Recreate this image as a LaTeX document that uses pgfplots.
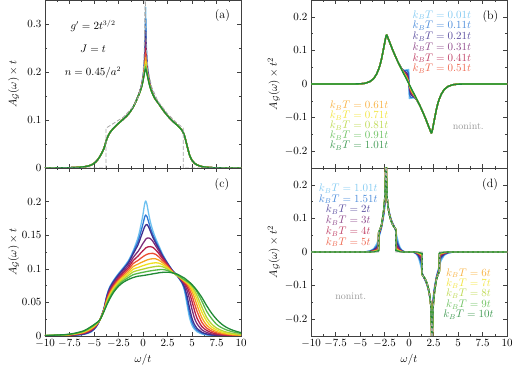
\documentclass[border=0pt]{standalone}
\usepackage{pgfplots}
\usepackage{pgfplotstable}
\pgfplotsset{compat=1.18}

\definecolor{k0}{HTML}{6EC1F0}
\definecolor{k1}{HTML}{2B78D4}
\definecolor{k2}{HTML}{3E2F8F}
\definecolor{k3}{HTML}{7C2B78}
\definecolor{k4}{HTML}{B5204C}
\definecolor{k5}{HTML}{EC4E32}
\definecolor{k6}{HTML}{F6A623}
\definecolor{k7}{HTML}{F0E020}
\definecolor{k8}{HTML}{B4D335}
\definecolor{k9}{HTML}{57B848}
\definecolor{k10}{HTML}{218A36}

% panel (a): k_B T = 0.01t ... 1.01t
\pgfplotstableread{
w a0 a1 a2 a3 a4 a5 a6 a7 a8 a9 a10
-10 0 0 0 0 0 0 0 0 0 0 0
-8 0.0004 0.0004 0.0004 0.0004 0.0004 0.0004 0.0004 0.0004 0.0004 0.0004 0.0004
-7 0.001 0.001 0.001 0.001 0.001 0.001 0.001 0.001 0.001 0.001 0.001
-6 0.0025 0.0025 0.0025 0.0025 0.0025 0.0025 0.0025 0.0025 0.0025 0.0025 0.0025
-5.3 0.006 0.006 0.006 0.006 0.006 0.006 0.006 0.006 0.006 0.006 0.006
-4.8 0.013 0.013 0.013 0.013 0.013 0.013 0.013 0.013 0.013 0.013 0.013
-4.4 0.024 0.024 0.024 0.024 0.024 0.024 0.024 0.024 0.024 0.024 0.024
-4.0 0.040 0.040 0.040 0.040 0.040 0.040 0.040 0.040 0.040 0.040 0.040
-3.7 0.060 0.060 0.060 0.060 0.060 0.060 0.060 0.060 0.060 0.060 0.060
-3.4 0.073 0.073 0.073 0.073 0.073 0.073 0.073 0.073 0.073 0.073 0.073
-3.0 0.083 0.083 0.083 0.083 0.083 0.083 0.083 0.083 0.083 0.083 0.083
-2.5 0.093 0.093 0.093 0.093 0.093 0.093 0.093 0.093 0.093 0.093 0.093
-2.0 0.102 0.102 0.102 0.102 0.102 0.102 0.102 0.102 0.102 0.102 0.102
-1.5 0.112 0.112 0.112 0.112 0.112 0.112 0.112 0.112 0.112 0.112 0.112
-1.0 0.127 0.127 0.127 0.127 0.127 0.127 0.127 0.127 0.127 0.127 0.127
-0.6 0.145 0.145 0.145 0.144 0.144 0.144 0.144 0.144 0.144 0.144 0.144
-0.3 0.161 0.161 0.160 0.160 0.160 0.160 0.159 0.159 0.159 0.159 0.159
-0.1 0.178 0.177 0.176 0.175 0.174 0.174 0.173 0.173 0.172 0.172 0.172
0.05 0.200 0.197 0.195 0.193 0.191 0.190 0.189 0.189 0.188 0.187 0.187
0.15 0.228 0.222 0.216 0.212 0.208 0.206 0.204 0.202 0.200 0.199 0.198
0.22 0.270 0.257 0.244 0.234 0.227 0.221 0.216 0.212 0.209 0.207 0.204
0.27 0.335 0.310 0.285 0.265 0.250 0.240 0.230 0.222 0.216 0.211 0.206
0.32 0.270 0.257 0.244 0.234 0.227 0.221 0.216 0.212 0.209 0.207 0.204
0.4 0.230 0.224 0.217 0.212 0.208 0.206 0.204 0.201 0.200 0.198 0.197
0.5 0.205 0.201 0.198 0.195 0.193 0.192 0.190 0.189 0.188 0.188 0.187
0.7 0.178 0.176 0.175 0.174 0.173 0.172 0.171 0.171 0.171 0.170 0.170
0.9 0.162 0.161 0.160 0.160 0.159 0.159 0.159 0.158 0.158 0.158 0.158
1.2 0.146 0.146 0.146 0.145 0.145 0.145 0.145 0.145 0.145 0.145 0.145
1.6 0.134 0.134 0.134 0.134 0.134 0.134 0.134 0.134 0.134 0.134 0.134
2.0 0.122 0.122 0.122 0.122 0.122 0.122 0.122 0.122 0.122 0.122 0.122
2.5 0.109 0.109 0.109 0.109 0.109 0.109 0.109 0.109 0.109 0.109 0.109
3.0 0.098 0.098 0.098 0.098 0.098 0.098 0.098 0.098 0.098 0.098 0.098
3.5 0.089 0.089 0.089 0.089 0.089 0.089 0.089 0.089 0.089 0.089 0.089
4.0 0.078 0.078 0.078 0.078 0.078 0.078 0.078 0.078 0.078 0.078 0.078
4.25 0.066 0.066 0.066 0.066 0.066 0.066 0.066 0.066 0.066 0.066 0.066
4.5 0.046 0.046 0.046 0.046 0.046 0.046 0.046 0.046 0.046 0.046 0.046
4.75 0.027 0.027 0.027 0.027 0.027 0.027 0.027 0.027 0.027 0.027 0.027
5.0 0.016 0.016 0.016 0.016 0.016 0.016 0.016 0.016 0.016 0.016 0.016
5.25 0.010 0.010 0.010 0.010 0.010 0.010 0.010 0.010 0.010 0.010 0.010
5.5 0.0065 0.0065 0.0065 0.0065 0.0065 0.0065 0.0065 0.0065 0.0065 0.0065 0.0065
6.0 0.003 0.003 0.003 0.003 0.003 0.003 0.003 0.003 0.003 0.003 0.003
6.5 0.0015 0.0015 0.0015 0.0015 0.0015 0.0015 0.0015 0.0015 0.0015 0.0015 0.0015
7.0 0.0008 0.0008 0.0008 0.0008 0.0008 0.0008 0.0008 0.0008 0.0008 0.0008 0.0008
7.5 0.0004 0.0004 0.0004 0.0004 0.0004 0.0004 0.0004 0.0004 0.0004 0.0004 0.0004
8.5 0.0001 0.0001 0.0001 0.0001 0.0001 0.0001 0.0001 0.0001 0.0001 0.0001 0.0001
10 0 0 0 0 0 0 0 0 0 0 0
}\tabA

% panel (c): k_B T = 1.01t, 1.51t, 2t, ..., 10t
\pgfplotstableread{
w c0 c1 c2 c3 c4 c5 c6 c7 c8 c9 c10
-10 0 0.0001 0.0001 0.0002 0.0003 0.0004 0.0005 0.0006 0.0006 0.0007 0.0008
-8 0.0004 0.0005 0.0006 0.0008 0.0010 0.0012 0.0013 0.0015 0.0017 0.0018 0.0020
-7 0.0010 0.0012 0.0014 0.0018 0.0021 0.0024 0.0028 0.0031 0.0034 0.0037 0.0040
-6 0.0025 0.0028 0.0032 0.0039 0.0045 0.0051 0.0057 0.0063 0.0068 0.0074 0.0080
-5.3 0.0060 0.0065 0.0070 0.0080 0.0090 0.0098 0.0107 0.0115 0.0123 0.0132 0.0140
-4.8 0.0130 0.0134 0.0137 0.0145 0.0152 0.0159 0.0165 0.0171 0.0177 0.0184 0.0190
-4.4 0.024 0.024 0.024 0.024 0.024 0.024 0.024 0.024 0.024 0.024 0.024
-4.0 0.0400 0.0398 0.0395 0.0390 0.0385 0.0381 0.0376 0.0372 0.0368 0.0364 0.0360
-3.7 0.0600 0.0592 0.0583 0.0565 0.0548 0.0533 0.0517 0.0503 0.0489 0.0475 0.0460
-3.4 0.0730 0.0719 0.0708 0.0685 0.0663 0.0644 0.0624 0.0606 0.0588 0.0569 0.0550
-3.0 0.0830 0.0819 0.0808 0.0785 0.0763 0.0744 0.0724 0.0706 0.0688 0.0669 0.0650
-2.5 0.0930 0.0919 0.0907 0.0883 0.0860 0.0839 0.0818 0.0799 0.0780 0.0760 0.0740
-2.0 0.1020 0.1007 0.0994 0.0965 0.0939 0.0914 0.0890 0.0868 0.0846 0.0823 0.0800
-1.5 0.1120 0.1103 0.1086 0.1050 0.1016 0.0986 0.0955 0.0927 0.0899 0.0869 0.0840
-1.0 0.1270 0.1246 0.1222 0.1170 0.1122 0.1078 0.1034 0.0994 0.0954 0.0912 0.0870
-0.5 0.147 0.141 0.136 0.126 0.119 0.1125 0.1070 0.1020 0.0976 0.0932 0.0890
-0.2 0.166 0.156 0.148 0.133 0.124 0.1160 0.1093 0.1037 0.0988 0.0942 0.0895
0.0 0.181 0.167 0.156 0.138 0.127 0.1180 0.1105 0.1047 0.0995 0.0948 0.0900
0.15 0.195 0.176 0.162 0.141 0.129 0.1195 0.1115 0.1054 0.1000 0.0952 0.0903
0.27 0.201 0.180 0.165 0.144 0.131 0.1205 0.1123 0.1060 0.1005 0.0956 0.0906
0.4 0.196 0.178 0.166 0.1455 0.132 0.1215 0.1131 0.1066 0.1010 0.0960 0.0909
0.55 0.184 0.171 0.163 0.146 0.1328 0.1222 0.1138 0.1072 0.1015 0.0964 0.0913
0.75 0.170 0.161 0.156 0.145 0.133 0.1228 0.1145 0.1079 0.1021 0.0969 0.0918
1.0 0.157 0.151 0.147 0.141 0.132 0.1230 0.1150 0.1085 0.1028 0.0975 0.0925
1.3 0.145 0.141 0.138 0.134 0.128 0.1215 0.1148 0.1090 0.1035 0.0981 0.0932
1.6 0.135 0.132 0.130 0.127 0.123 0.1180 0.1130 0.1085 0.1040 0.0986 0.0940
2.0 0.122 0.120 0.119 0.117 0.115 0.1120 0.1090 0.1060 0.1030 0.0990 0.0947
2.5 0.109 0.108 0.108 0.107 0.106 0.1045 0.1025 0.1010 0.0995 0.0975 0.0950
3.0 0.098 0.0976 0.0973 0.0968 0.0963 0.0958 0.0953 0.0949 0.0945 0.0942 0.0940
3.5 0.089 0.0896 0.0897 0.0899 0.0900 0.0900 0.0900 0.0902 0.0902 0.0910 0.0920
4.0 0.078 0.0787 0.0797 0.0813 0.0825 0.0834 0.0841 0.0847 0.0852 0.0858 0.0880
4.25 0.066 0.0690 0.0723 0.0764 0.0787 0.0800 0.0811 0.0820 0.0827 0.0836 0.0860
4.5 0.046 0.0526 0.0592 0.0677 0.0730 0.0759 0.0782 0.0792 0.0802 0.0812 0.0830
4.75 0.027 0.0340 0.0418 0.0549 0.0637 0.0693 0.0732 0.0756 0.0775 0.0790 0.0800
5.0 0.016 0.0208 0.0264 0.0398 0.0514 0.0602 0.0663 0.0702 0.0734 0.0755 0.0765
5.25 0.010 0.0130 0.0172 0.0267 0.0384 0.0486 0.0574 0.0633 0.0677 0.0713 0.0725
5.5 0.0065 0.0088 0.0115 0.0186 0.0269 0.0373 0.0465 0.0547 0.0607 0.0661 0.0680
6.0 0.0030 0.0043 0.0057 0.0094 0.0142 0.0205 0.0274 0.0357 0.0434 0.0519 0.0575
6.5 0.0015 0.0023 0.0030 0.0053 0.0083 0.0118 0.0162 0.0220 0.0276 0.0366 0.0450
7.0 0.0008 0.0012 0.0017 0.0030 0.0050 0.0073 0.0101 0.0136 0.0180 0.0260 0.0340
7.5 0.0004 0.0007 0.0010 0.0019 0.0030 0.0047 0.0066 0.0091 0.0119 0.0175 0.0250
8.0 0.0002 0.0004 0.0006 0.0012 0.0020 0.0030 0.0045 0.0062 0.0084 0.0125 0.0180
8.5 0.0001 0.0002 0.0003 0.0007 0.0013 0.0022 0.0030 0.0044 0.0059 0.0092 0.0130
9.0 0 0.0001 0.0002 0.0005 0.0009 0.0014 0.0023 0.0030 0.0043 0.0068 0.0095
9.5 0 0.0001 0.0001 0.0003 0.0006 0.0010 0.0015 0.0024 0.0030 0.0051 0.0070
10 0 0 0.0001 0.0002 0.0004 0.0007 0.0012 0.0017 0.0024 0.0038 0.0050
}\tabC

% panel (b): k_B T = 0.01t ... 1.01t
\pgfplotstableread{
w b0 b1 b2 b3 b4 b5 b6 b7 b8 b9 b10
-10 0 0 0 0 0 0 0 0 0 0 0
-6 0 0 0 0 0 0 0 0 0 0 0
-5 0.0005 0.0005 0.0005 0.0005 0.0005 0.0005 0.0005 0.0005 0.0005 0.0005 0.0005
-4.5 0.002 0.002 0.002 0.002 0.002 0.002 0.002 0.002 0.002 0.002 0.002
-4.0 0.007 0.007 0.007 0.007 0.007 0.007 0.007 0.007 0.007 0.007 0.007
-3.6 0.016 0.016 0.016 0.016 0.016 0.016 0.016 0.016 0.016 0.016 0.016
-3.3 0.030 0.030 0.030 0.030 0.030 0.030 0.030 0.030 0.030 0.030 0.030
-3.1 0.044 0.044 0.044 0.044 0.044 0.044 0.044 0.044 0.044 0.044 0.044
-2.95 0.057 0.057 0.057 0.057 0.057 0.057 0.057 0.057 0.057 0.057 0.057
-2.8 0.075 0.075 0.075 0.075 0.075 0.075 0.075 0.075 0.075 0.075 0.075
-2.65 0.097 0.097 0.097 0.097 0.097 0.097 0.097 0.097 0.097 0.097 0.097
-2.55 0.112 0.112 0.112 0.112 0.112 0.112 0.112 0.112 0.112 0.112 0.112
-2.48 0.123 0.123 0.123 0.123 0.123 0.123 0.123 0.123 0.123 0.123 0.123
-2.42 0.132 0.132 0.132 0.132 0.132 0.132 0.132 0.132 0.132 0.132 0.132
-2.37 0.139 0.139 0.139 0.139 0.139 0.139 0.139 0.139 0.139 0.139 0.139
-2.33 0.144 0.144 0.144 0.144 0.144 0.144 0.144 0.144 0.144 0.144 0.144
-2.28 0.146 0.146 0.146 0.146 0.146 0.146 0.146 0.146 0.146 0.146 0.146
-2.2 0.141 0.141 0.141 0.141 0.141 0.141 0.141 0.141 0.141 0.141 0.141
-2.05 0.130 0.130 0.130 0.130 0.130 0.130 0.130 0.130 0.130 0.130 0.130
-1.85 0.115 0.115 0.115 0.115 0.115 0.115 0.115 0.115 0.115 0.115 0.115
-1.65 0.100 0.100 0.100 0.100 0.100 0.100 0.100 0.100 0.100 0.100 0.100
-1.5 0.090 0.090 0.090 0.090 0.090 0.090 0.090 0.090 0.090 0.090 0.090
-1.35 0.080 0.080 0.080 0.080 0.080 0.080 0.080 0.080 0.080 0.080 0.080
-1.2 0.070 0.070 0.070 0.070 0.070 0.070 0.070 0.070 0.070 0.070 0.070
-1.05 0.061 0.061 0.061 0.061 0.061 0.061 0.061 0.061 0.061 0.061 0.061
-0.9 0.053 0.053 0.053 0.053 0.053 0.052 0.052 0.052 0.052 0.052 0.052
-0.7 0.044 0.044 0.043 0.043 0.042 0.042 0.041 0.041 0.041 0.040 0.040
-0.5 0.040 0.040 0.038 0.036 0.034 0.033 0.032 0.031 0.030 0.029 0.028
-0.35 0.041 0.040 0.036 0.032 0.029 0.027 0.025 0.024 0.023 0.021 0.020
-0.25 0.042 0.040 0.034 0.029 0.025 0.022 0.020 0.018 0.017 0.0155 0.014
-0.15 0.042 0.039 0.029 0.022 0.018 0.015 0.013 0.012 0.011 0.0095 0.008
-0.07 0.043 0.033 0.018 0.012 0.009 0.008 0.007 0.006 0.0055 0.0048 0.004
-0.02 0.043 0.013 0.006 0.004 0.003 0.0025 0.002 0.0018 0.0016 0.0013 0.001
0 0 0 0 0 0 0 0 0 0 0 0
0.02 -0.043 -0.013 -0.006 -0.004 -0.003 -0.0025 -0.002 -0.0018 -0.0016 -0.0013 -0.001
0.07 -0.043 -0.033 -0.018 -0.012 -0.009 -0.008 -0.007 -0.006 -0.0055 -0.0048 -0.004
0.15 -0.042 -0.039 -0.029 -0.022 -0.018 -0.015 -0.013 -0.012 -0.011 -0.0095 -0.008
0.25 -0.042 -0.040 -0.034 -0.029 -0.025 -0.022 -0.020 -0.018 -0.017 -0.0155 -0.014
0.35 -0.041 -0.040 -0.036 -0.032 -0.029 -0.027 -0.025 -0.024 -0.023 -0.021 -0.020
0.5 -0.040 -0.040 -0.038 -0.036 -0.034 -0.033 -0.032 -0.031 -0.030 -0.029 -0.028
0.7 -0.044 -0.044 -0.043 -0.043 -0.042 -0.042 -0.041 -0.041 -0.041 -0.040 -0.040
0.9 -0.053 -0.053 -0.053 -0.053 -0.053 -0.052 -0.052 -0.052 -0.052 -0.052 -0.052
1.05 -0.061 -0.061 -0.061 -0.061 -0.061 -0.061 -0.061 -0.061 -0.061 -0.061 -0.061
1.2 -0.070 -0.070 -0.070 -0.070 -0.070 -0.070 -0.070 -0.070 -0.070 -0.070 -0.070
1.35 -0.080 -0.080 -0.080 -0.080 -0.080 -0.080 -0.080 -0.080 -0.080 -0.080 -0.080
1.5 -0.090 -0.090 -0.090 -0.090 -0.090 -0.090 -0.090 -0.090 -0.090 -0.090 -0.090
1.65 -0.100 -0.100 -0.100 -0.100 -0.100 -0.100 -0.100 -0.100 -0.100 -0.100 -0.100
1.85 -0.115 -0.115 -0.115 -0.115 -0.115 -0.115 -0.115 -0.115 -0.115 -0.115 -0.115
2.05 -0.130 -0.130 -0.130 -0.130 -0.130 -0.130 -0.130 -0.130 -0.130 -0.130 -0.130
2.2 -0.141 -0.141 -0.141 -0.141 -0.141 -0.141 -0.141 -0.141 -0.141 -0.141 -0.141
2.28 -0.146 -0.146 -0.146 -0.146 -0.146 -0.146 -0.146 -0.146 -0.146 -0.146 -0.146
2.33 -0.144 -0.144 -0.144 -0.144 -0.144 -0.144 -0.144 -0.144 -0.144 -0.144 -0.144
2.37 -0.139 -0.139 -0.139 -0.139 -0.139 -0.139 -0.139 -0.139 -0.139 -0.139 -0.139
2.42 -0.132 -0.132 -0.132 -0.132 -0.132 -0.132 -0.132 -0.132 -0.132 -0.132 -0.132
2.48 -0.123 -0.123 -0.123 -0.123 -0.123 -0.123 -0.123 -0.123 -0.123 -0.123 -0.123
2.55 -0.112 -0.112 -0.112 -0.112 -0.112 -0.112 -0.112 -0.112 -0.112 -0.112 -0.112
2.65 -0.097 -0.097 -0.097 -0.097 -0.097 -0.097 -0.097 -0.097 -0.097 -0.097 -0.097
2.8 -0.075 -0.075 -0.075 -0.075 -0.075 -0.075 -0.075 -0.075 -0.075 -0.075 -0.075
2.95 -0.057 -0.057 -0.057 -0.057 -0.057 -0.057 -0.057 -0.057 -0.057 -0.057 -0.057
3.1 -0.044 -0.044 -0.044 -0.044 -0.044 -0.044 -0.044 -0.044 -0.044 -0.044 -0.044
3.3 -0.030 -0.030 -0.030 -0.030 -0.030 -0.030 -0.030 -0.030 -0.030 -0.030 -0.030
3.6 -0.016 -0.016 -0.016 -0.016 -0.016 -0.016 -0.016 -0.016 -0.016 -0.016 -0.016
4.0 -0.007 -0.007 -0.007 -0.007 -0.007 -0.007 -0.007 -0.007 -0.007 -0.007 -0.007
4.5 -0.002 -0.002 -0.002 -0.002 -0.002 -0.002 -0.002 -0.002 -0.002 -0.002 -0.002
5 -0.0005 -0.0005 -0.0005 -0.0005 -0.0005 -0.0005 -0.0005 -0.0005 -0.0005 -0.0005 -0.0005
6 0 0 0 0 0 0 0 0 0 0 0
10 0 0 0 0 0 0 0 0 0 0 0
}\tabB

% panel (d): k_B T = 1.01t ... 10t, nn = noninteracting
\pgfplotstableread{
w d0 d1 d2 d3 d4 d5 d6 d7 d8 d9 d10 nn
-10 0 0 0 0 0 0 0 0 0 0 0 0
-6 0 0 0 0 0 0 0 0 0 0 0 0
-5 0 0 0 0 0 0 0 0 0 0 0 0
-4.5 0.0005 0.0004 0.0003 0.0002 0.0002 0.0001 0.0001 0.0001 0.0001 0 0 0
-4.0 0.003 0.0023 0.0017 0.0012 0.0009 0.0007 0.0005 0.0004 0.0003 0.0003 0.0002 0
-3.6 0.010 0.0075 0.0058 0.0040 0.0030 0.0023 0.0018 0.0014 0.0011 0.0009 0.0007 0
-3.3 0.024 0.018 0.0139 0.0096 0.0072 0.0055 0.0043 0.0034 0.0026 0.0020 0.0016 0
-3.1 0.040 0.030 0.0232 0.016 0.012 0.0092 0.0072 0.0056 0.0044 0.0034 0.0026 0
-3.1 0.040 0.045 0.0484 0.052 0.054 0.0554 0.0564 0.0572 0.0578 0.0583 0.0587 0.060
-2.95 0.055 0.0588 0.0613 0.064 0.0655 0.0666 0.0673 0.0679 0.0684 0.0687 0.069 0.070
-2.8 0.072 0.0748 0.0766 0.0786 0.0797 0.0805 0.081 0.0815 0.0818 0.0821 0.0823 0.083
-2.65 0.095 0.0993 0.1021 0.1052 0.1069 0.1081 0.1089 0.1096 0.1101 0.1106 0.1109 0.112
-2.55 0.113 0.1185 0.1222 0.1262 0.1284 0.1299 0.131 0.1319 0.1326 0.1331 0.1336 0.135
-2.48 0.130 0.1383 0.1439 0.1498 0.1531 0.1554 0.1571 0.1584 0.1594 0.1602 0.1609 0.163
-2.42 0.150 0.1625 0.171 0.18 0.185 0.1885 0.191 0.193 0.1945 0.1958 0.1968 0.200
-2.37 0.168 0.206 0.2318 0.2592 0.2744 0.285 0.2926 0.2987 0.3033 0.3071 0.3101 0.320
-2.33 0.176 0.212 0.2365 0.2624 0.2768 0.2869 0.2941 0.2998 0.3042 0.3078 0.3106 0.320
-2.28 0.170 0.180 0.1868 0.194 0.198 0.2008 0.2028 0.2044 0.2056 0.2066 0.2074 0.210
-2.2 0.150 0.150 0.150 0.150 0.150 0.150 0.150 0.150 0.150 0.150 0.150 0.150
-2.05 0.123 0.121 0.1196 0.1182 0.1174 0.1168 0.1164 0.1161 0.1159 0.1157 0.1155 0.115
-1.85 0.100 0.0983 0.0971 0.0958 0.0951 0.0946 0.0943 0.094 0.0938 0.0936 0.0935 0.093
-1.65 0.085 0.0835 0.0825 0.0814 0.0808 0.0804 0.0801 0.0798 0.0797 0.0795 0.0794 0.079
-1.5 0.076 0.0753 0.0747 0.0742 0.0739 0.0737 0.0735 0.0734 0.0733 0.0733 0.0732 0.073
-1.35 0.062 0.0638 0.0649 0.0662 0.0669 0.0674 0.0677 0.068 0.0682 0.0684 0.0685 0.069
-1.35 0.062 0.0465 0.036 0.0248 0.0186 0.0143 0.0112 0.0087 0.0068 0.0053 0.004 0
-1.2 0.042 0.0315 0.0244 0.0168 0.0126 0.0097 0.0076 0.0059 0.0046 0.0036 0.0027 0
-1.05 0.025 0.0188 0.0145 0.010 0.0075 0.0058 0.0045 0.0035 0.0028 0.0021 0.0016 0
-0.9 0.013 0.0098 0.0075 0.0052 0.0039 0.003 0.0023 0.0018 0.0014 0.0011 0.0008 0
-0.7 0.005 0.0038 0.0029 0.002 0.0015 0.0012 0.0009 0.0007 0.0006 0.0004 0.0003 0
-0.5 0.0015 0.0011 0.0009 0.0006 0.0005 0.0003 0.0003 0.0002 0.0002 0.0001 0.0001 0
-0.3 0.0004 0.0003 0.0002 0.0002 0.0001 0.0001 0.0001 0.0001 0 0 0 0
-0.15 0.0001 0.0001 0.0001 0 0 0 0 0 0 0 0 0
0 0 0 0 0 0 0 0 0 0 0 0 0
0.15 -0.0001 -0.0001 -0.0001 0 0 0 0 0 0 0 0 0
0.3 -0.0004 -0.0003 -0.0002 -0.0002 -0.0001 -0.0001 -0.0001 -0.0001 0 0 0 0
0.5 -0.0015 -0.0011 -0.0009 -0.0006 -0.0005 -0.0003 -0.0003 -0.0002 -0.0002 -0.0001 -0.0001 0
0.7 -0.005 -0.0038 -0.0029 -0.002 -0.0015 -0.0012 -0.0009 -0.0007 -0.0006 -0.0004 -0.0003 0
0.9 -0.013 -0.0098 -0.0075 -0.0052 -0.0039 -0.003 -0.0023 -0.0018 -0.0014 -0.0011 -0.0008 0
1.05 -0.025 -0.0188 -0.0145 -0.010 -0.0075 -0.0058 -0.0045 -0.0035 -0.0028 -0.0021 -0.0016 0
1.2 -0.042 -0.0315 -0.0244 -0.0168 -0.0126 -0.0097 -0.0076 -0.0059 -0.0046 -0.0036 -0.0027 0
1.35 -0.062 -0.0465 -0.036 -0.0248 -0.0186 -0.0143 -0.0112 -0.0087 -0.0068 -0.0053 -0.004 0
1.35 -0.062 -0.0638 -0.0649 -0.0662 -0.0669 -0.0674 -0.0677 -0.068 -0.0682 -0.0684 -0.0685 -0.069
1.5 -0.076 -0.0753 -0.0747 -0.0742 -0.0739 -0.0737 -0.0735 -0.0734 -0.0733 -0.0733 -0.0732 -0.073
1.65 -0.085 -0.0835 -0.0825 -0.0814 -0.0808 -0.0804 -0.0801 -0.0798 -0.0797 -0.0795 -0.0794 -0.079
1.85 -0.100 -0.0983 -0.0971 -0.0958 -0.0951 -0.0946 -0.0943 -0.094 -0.0938 -0.0936 -0.0935 -0.093
2.05 -0.123 -0.121 -0.1196 -0.1182 -0.1174 -0.1168 -0.1164 -0.1161 -0.1159 -0.1157 -0.1155 -0.115
2.2 -0.150 -0.150 -0.150 -0.150 -0.150 -0.150 -0.150 -0.150 -0.150 -0.150 -0.150 -0.150
2.28 -0.170 -0.180 -0.1868 -0.194 -0.198 -0.2008 -0.2028 -0.2044 -0.2056 -0.2066 -0.2074 -0.210
2.33 -0.176 -0.212 -0.2365 -0.2624 -0.2768 -0.2869 -0.2941 -0.2998 -0.3042 -0.3078 -0.3106 -0.320
2.37 -0.168 -0.206 -0.2318 -0.2592 -0.2744 -0.285 -0.2926 -0.2987 -0.3033 -0.3071 -0.3101 -0.320
2.42 -0.150 -0.1625 -0.171 -0.18 -0.185 -0.1885 -0.191 -0.193 -0.1945 -0.1958 -0.1968 -0.200
2.48 -0.130 -0.1383 -0.1439 -0.1498 -0.1531 -0.1554 -0.1571 -0.1584 -0.1594 -0.1602 -0.1609 -0.163
2.55 -0.113 -0.1185 -0.1222 -0.1262 -0.1284 -0.1299 -0.131 -0.1319 -0.1326 -0.1331 -0.1336 -0.135
2.65 -0.095 -0.0993 -0.1021 -0.1052 -0.1069 -0.1081 -0.1089 -0.1096 -0.1101 -0.1106 -0.1109 -0.112
2.8 -0.072 -0.0748 -0.0766 -0.0786 -0.0797 -0.0805 -0.081 -0.0815 -0.0818 -0.0821 -0.0823 -0.083
2.95 -0.055 -0.0588 -0.0613 -0.064 -0.0655 -0.0666 -0.0673 -0.0679 -0.0684 -0.0687 -0.069 -0.070
3.1 -0.040 -0.045 -0.0484 -0.052 -0.054 -0.0554 -0.0564 -0.0572 -0.0578 -0.0583 -0.0587 -0.060
3.1 -0.040 -0.030 -0.0232 -0.016 -0.012 -0.0092 -0.0072 -0.0056 -0.0044 -0.0034 -0.0026 0
3.3 -0.024 -0.018 -0.0139 -0.0096 -0.0072 -0.0055 -0.0043 -0.0034 -0.0026 -0.0020 -0.0016 0
3.6 -0.010 -0.0075 -0.0058 -0.0040 -0.0030 -0.0023 -0.0018 -0.0014 -0.0011 -0.0009 -0.0007 0
4.0 -0.003 -0.0023 -0.0017 -0.0012 -0.0009 -0.0007 -0.0005 -0.0004 -0.0003 -0.0003 -0.0002 0
4.5 -0.0005 -0.0004 -0.0003 -0.0002 -0.0002 -0.0001 -0.0001 -0.0001 -0.0001 0 0 0
5 0 0 0 0 0 0 0 0 0 0 0 0
6 0 0 0 0 0 0 0 0 0 0 0 0
10 0 0 0 0 0 0 0 0 0 0 0 0
}\tabD

\pgfplotsset{
  panel/.style={
    scale only axis, width=196pt, height=168pt,
    xmin=-10, xmax=10,
    xtick={-10,-7.5,...,10},
    minor x tick num=1, minor y tick num=1,
    tick align=inside,
    major tick length=4pt, minor tick length=2pt,
    axis line style={black!75, line width=0.6pt},
    every tick/.style={black!75, line width=0.5pt},
    scaled ticks=false,
    yticklabel style={/pgf/number format/fixed, /pgf/number format/precision=2},
    xticklabel style={/pgf/number format/fixed, /pgf/number format/precision=1},
    tick label style={font=\fontsize{11}{13}\selectfont},
    label style={font=\fontsize{11}{13}\selectfont},
  },
}
\tikzset{
  curve/.style={line width=1.3pt, line join=round},
  legtxt/.style={font=\fontsize{10.5}{12}\selectfont, text opacity=0.85},
}

\begin{document}
\begin{tikzpicture}
\useasboundingbox (0,0) rectangle (516pt,369pt);

% (a)
\begin{axis}[panel, at={(45pt,201pt)}, anchor=south west,
    ymin=0, ymax=0.35, ytick={0,0.1,0.2,0.3}, xticklabel=\empty,
    ylabel={$A_{\mathcal{G}}(\omega)\times t$},
    ylabel style={at={(axis description cs:-0.16,0.5)}, anchor=center}]
  \pgfplotsinvokeforeach{0,...,10}{
    \addplot[k#1, curve, smooth] table[x=w, y=a#1] {\tabA};
  }
  \addplot[gray!70, line width=0.8pt, dash pattern=on 4pt off 2pt] coordinates {
    (-10,0) (-3.78,0) (-3.78,0.083) (-2.0,0.106) (-1.0,0.128) (-0.5,0.147)
    (-0.2,0.170) (0.0,0.195) (0.12,0.24) (0.19,0.31) (0.22,0.45) (0.26,0.31)
    (0.34,0.25) (0.5,0.205) (0.9,0.168) (1.5,0.140) (2.5,0.113) (3.5,0.093)
    (4.1,0.083) (4.1,0) (10,0)};
  \node[font=\fontsize{12}{14}\selectfont] at (axis cs:8.1,0.317) {(a)};
  \node[font=\fontsize{10.5}{12}\selectfont] at (axis cs:-5.1,0.296) {$g'=2t^{3/2}$};
  \node[font=\fontsize{10.5}{12}\selectfont] at (axis cs:-5.1,0.249) {$J=t$};
  \node[font=\fontsize{10.5}{12}\selectfont] at (axis cs:-5.1,0.199) {$n=0.45/a^2$};
\end{axis}

% (c)
\begin{axis}[panel, at={(45pt,33pt)}, anchor=south west,
    ymin=0, ymax=0.25, ytick={0,0.05,0.1,0.15,0.2},
    xlabel={$\omega/t$},
    xlabel style={at={(axis description cs:0.5,-0.14)}, anchor=center},
    ylabel={$A_{\mathcal{G}}(\omega)\times t$},
    ylabel style={at={(axis description cs:-0.16,0.5)}, anchor=center}]
  \pgfplotsinvokeforeach{0,...,10}{
    \addplot[k#1, curve, smooth] table[x=w, y=c#1] {\tabC};
  }
  \node[font=\fontsize{12}{14}\selectfont] at (axis cs:8.05,0.225) {(c)};
\end{axis}

% (b)
\begin{axis}[panel, at={(311pt,201pt)}, anchor=south west,
    ymin=-0.25, ymax=0.25, ytick={-0.2,-0.1,0,0.1,0.2}, xticklabel=\empty,
    ylabel={$A_{\mathcal{G}}(\omega)\times t^2$},
    ylabel style={at={(axis description cs:-0.19,0.5)}, anchor=center}]
  \pgfplotsinvokeforeach{0,...,10}{
    \addplot[k#1, curve] table[x=w, y=b#1] {\tabB};
  }
  \node[font=\fontsize{12}{14}\selectfont] at (axis cs:8.3,0.202) {(b)};
  \node[legtxt, text=k0] at (axis cs:3.35,0.205) {$k_BT=0.01t$};
  \node[legtxt, text=k1] at (axis cs:3.35,0.173) {$k_BT=0.11t$};
  \node[legtxt, text=k2] at (axis cs:3.35,0.141) {$k_BT=0.21t$};
  \node[legtxt, text=k3] at (axis cs:3.35,0.109) {$k_BT=0.31t$};
  \node[legtxt, text=k4] at (axis cs:3.35,0.077) {$k_BT=0.41t$};
  \node[legtxt, text=k5] at (axis cs:3.35,0.045) {$k_BT=0.51t$};
  \node[legtxt, text=k6] at (axis cs:-5.1,-0.064) {$k_BT=0.61t$};
  \node[legtxt, text=k7] at (axis cs:-5.1,-0.094) {$k_BT=0.71t$};
  \node[legtxt, text=k8] at (axis cs:-5.1,-0.124) {$k_BT=0.81t$};
  \node[legtxt, text=k9] at (axis cs:-5.1,-0.154) {$k_BT=0.91t$};
  \node[legtxt, text=k10] at (axis cs:-5.1,-0.184) {$k_BT=1.01t$};
  \node[font=\fontsize{10}{12}\selectfont, text=gray!80] at (axis cs:6.05,-0.127) {nonint.};
\end{axis}

% (d)
\begin{axis}[panel, at={(311pt,33pt)}, anchor=south west,
    ymin=-0.25, ymax=0.25, ytick={-0.2,-0.1,0,0.1,0.2},
    xlabel={$\omega/t$},
    xlabel style={at={(axis description cs:0.5,-0.14)}, anchor=center},
    ylabel={$A_{\mathcal{G}}(\omega)\times t^2$},
    ylabel style={at={(axis description cs:-0.19,0.5)}, anchor=center}]
  \pgfplotsinvokeforeach{0,...,10}{
    \addplot[k#1, curve] table[x=w, y=d#1] {\tabD};
  }
  \addplot[gray!70, line width=0.8pt, dash pattern=on 3pt off 2pt] table[x=w, y=nn] {\tabD};
  \node[font=\fontsize{12}{14}\selectfont] at (axis cs:8.27,0.202) {(d)};
  \node[legtxt, text=k0] at (axis cs:-6.2,0.189) {$k_BT=1.01t$};
  \node[legtxt, text=k1] at (axis cs:-6.2,0.157) {$k_BT=1.51t$};
  \node[legtxt, text=k2] at (axis cs:-6.2,0.125) {$k_BT=2t$};
  \node[legtxt, text=k3] at (axis cs:-6.2,0.093) {$k_BT=3t$};
  \node[legtxt, text=k4] at (axis cs:-6.2,0.061) {$k_BT=4t$};
  \node[legtxt, text=k5] at (axis cs:-6.2,0.029) {$k_BT=5t$};
  \node[legtxt, text=k6] at (axis cs:6.07,-0.063) {$k_BT=6t$};
  \node[legtxt, text=k7] at (axis cs:6.07,-0.094) {$k_BT=7t$};
  \node[legtxt, text=k8] at (axis cs:6.07,-0.125) {$k_BT=8t$};
  \node[legtxt, text=k9] at (axis cs:6.07,-0.156) {$k_BT=9t$};
  \node[legtxt, text=k10] at (axis cs:6.07,-0.187) {$k_BT=10t$};
  \node[font=\fontsize{10}{12}\selectfont, text=gray!80] at (axis cs:-5.94,-0.133) {nonint.};
\end{axis}
\end{tikzpicture}
\end{document}
